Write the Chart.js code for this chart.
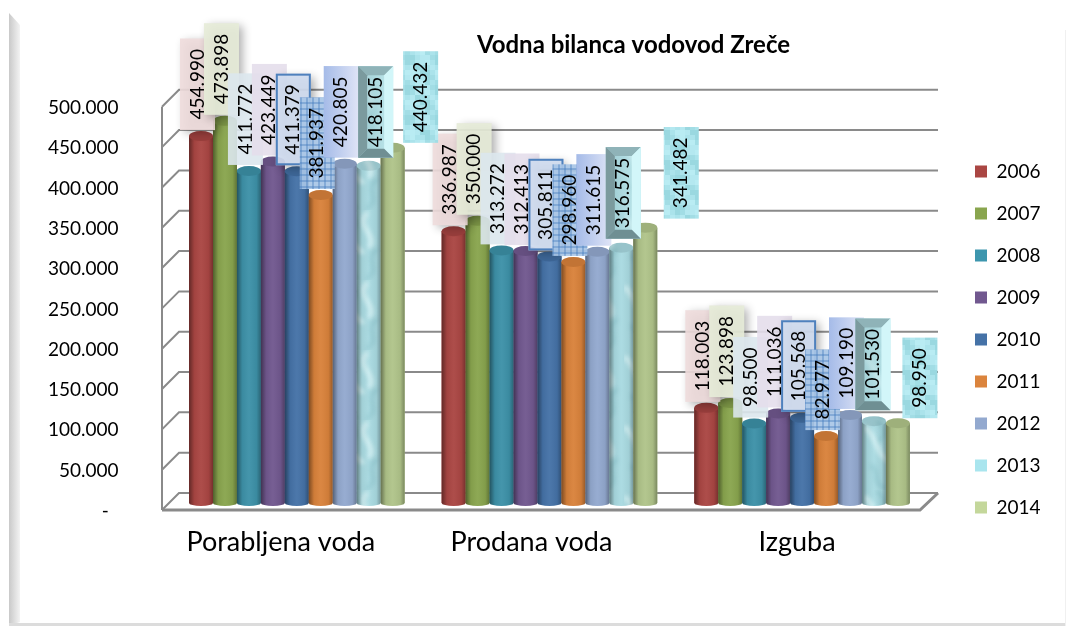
<!DOCTYPE html>
<html>
<head>
<meta charset="utf-8">
<title>Vodna bilanca vodovod Zreče</title>
<script src="https://cdn.jsdelivr.net/npm/chart.js@4/dist/chart.umd.min.js"></script>
<style>
    html, body { margin: 0; padding: 0; background: #fff; }
    canvas { display: block; }
</style>
</head>
<body>
<canvas id="voteChart" width="1066" height="626"></canvas>
<script>
// ====== data ======
const categories = ["Porabljena voda", "Prodana voda", "Izguba"];
const years = ["2006", "2007", "2008", "2009", "2010", "2011", "2012", "2013", "2014"];

const v2006 = [454990, 336987, 118003];
const v2007 = [473898, 350000, 123898];
const v2008 = [411772, 313272, 98500];
const v2009 = [423449, 312413, 111036];
const v2010 = [411379, 305811, 105568];
const v2011 = [381937, 298960, 82977];
const v2012 = [420805, 311615, 109190];
const v2013 = [418105, 316575, 101530];
const v2014 = [440432, 341482, 98950];
const seriesValues = [v2006, v2007, v2008, v2009, v2010, v2011, v2012, v2013, v2014];

const seriesColors = ["#AA4643", "#89A54E", "#3D91A8", "#71588F", "#4572A7", "#D9823B", "#93A9CF", "#A9E2EA", "#B0C48A"];
const legendColors = ["#AA4643", "#89A54E", "#3D96AE", "#71588F", "#4572A7", "#DB843D", "#93A9CF", "#A9E5EE", "#C4D79B"];

// label nudges, only the last two series sit off the default spot
const labelDx = { 7: [7, 2, -1], 8: [28, 36, 22] };
const labelDy = { 7: [-8, -9, -11], 8: [-5, -9, -5] };
const catLabelShift = [-16, -18, -5];

const fontName = "Lato, 'Open Sans', sans-serif";
const fmt = (v) => v.toLocaleString("de-DE");

// ====== small patterns ======
function makeTile(w, h, paint) {
    const c = document.createElement("canvas");
    c.width = w;
    c.height = h;
    paint(c.getContext("2d"));
    return c;
}

const marbleTile = makeTile(48, 70, (g) => {
    g.fillStyle = "#a9dae1";
    g.fillRect(0, 0, 48, 70);
    g.filter = "blur(2px)";
    g.lineCap = "round";
    g.strokeStyle = "rgba(225,248,250,0.7)";
    g.lineWidth = 5;
    g.beginPath(); g.moveTo(2, 8); g.bezierCurveTo(16, 22, 10, 32, 26, 42); g.stroke();
    g.beginPath(); g.moveTo(30, 4); g.bezierCurveTo(20, 16, 40, 24, 34, 36); g.stroke();
    g.strokeStyle = "rgba(120,180,190,0.4)";
    g.lineWidth = 4;
    g.beginPath(); g.moveTo(8, 46); g.bezierCurveTo(18, 56, 6, 60, 20, 68); g.stroke();
    g.beginPath(); g.moveTo(40, 40); g.bezierCurveTo(28, 50, 44, 58, 32, 68); g.stroke();
    g.beginPath(); g.moveTo(14, 2); g.bezierCurveTo(20, 8, 22, 14, 16, 20); g.stroke();
    g.filter = "none";
});

const pixelTile = makeTile(30, 30, (g) => {
    const tones = ["#b4e8f0", "#abe3eb", "#a2dde5", "#b9ecf3", "#9ad8e0"];
    for (let i = 0; i < 6; i++) {
        for (let j = 0; j < 6; j++) {
            g.fillStyle = tones[(i * 3 + j * 2 + (i * j) % 3) % 5];
            g.fillRect(i * 5, j * 5, 5, 5);
        }
    }
});

const dotTile = makeTile(6, 6, (g) => {
    g.fillStyle = "rgba(168,197,230,0.92)";
    g.fillRect(0, 0, 6, 6);
    g.fillStyle = "rgba(70,125,190,0.4)";
    g.fillRect(0, 0, 6, 2);
    g.fillRect(0, 0, 2, 6);
});

// ====== frame around the picture ======
const framePlugin = {
    id: "frame",
    beforeDraw(chart) {
        const g = chart.ctx;
        g.save();
        g.fillStyle = "#fff";
        g.fillRect(0, 0, 1066, 626);
        const band = g.createLinearGradient(9, 0, 20, 0);
        band.addColorStop(0, "#c9c9c9");
        band.addColorStop(1, "#f3f3f3");
        g.fillStyle = band;
        g.beginPath();
        g.moveTo(9, 13);
        g.lineTo(20, 25);
        g.lineTo(20, 622);
        g.lineTo(9, 626);
        g.closePath();
        g.fill();
        g.fillStyle = "#dcdcdc";
        g.fillRect(9, 623, 1057, 3);
        g.fillStyle = "#f0f0f0";
        g.fillRect(1065, 30, 1, 596);
        g.restore();
    }
};

// ====== 3D-looking walls and floor, taken from the y scale ======
const wallPlugin = {
    id: "walls",
    beforeDatasetsDraw(chart) {
        const g = chart.ctx;
        const y = chart.scales.y;
        const frontX = 162, backX = 179, depthUp = 10, depthDown = 7, endX = 938;
        g.save();
        g.strokeStyle = "#8a8a8a";
        g.lineWidth = 2;
        y.ticks.forEach((t) => {
            const p = y.getPixelForValue(t.value);
            g.beginPath();
            g.moveTo(frontX, p + depthDown);
            g.lineTo(backX, p - depthUp);
            g.lineTo(endX, p - depthUp);
            g.stroke();
        });
        const top = y.getPixelForValue(500000) + depthDown;
        const bottom = y.getPixelForValue(0) + depthDown;
        g.beginPath();
        g.moveTo(frontX, top);
        g.lineTo(frontX, bottom);
        g.stroke();
        g.lineWidth = 3;
        g.beginPath();
        g.moveTo(frontX, bottom);
        g.lineTo(920, bottom);
        g.lineTo(endX, bottom - depthDown - depthUp);
        g.stroke();
        g.restore();
    }
};

// ====== cylinder look on top of the library's bars ======
function shade(g, bar) {
    const left = bar.x - bar.width / 2;
    const grad = g.createLinearGradient(left, 0, left + bar.width, 0);
    grad.addColorStop(0, "rgba(0,0,0,0.42)");
    grad.addColorStop(0.22, "rgba(0,0,0,0.05)");
    grad.addColorStop(0.5, "rgba(255,255,255,0.04)");
    grad.addColorStop(0.82, "rgba(0,0,0,0.05)");
    grad.addColorStop(1, "rgba(0,0,0,0.3)");
    return grad;
}

function cylinderPath(g, bar) {
    const rx = bar.width / 2;
    g.beginPath();
    g.moveTo(bar.x - rx, bar.y);
    g.lineTo(bar.x - rx, bar.base);
    g.ellipse(bar.x, bar.base, rx, 3, 0, Math.PI, 0, true);
    g.lineTo(bar.x + rx, bar.y);
    g.closePath();
}

const cylinderPlugin = {
    id: "cylinder",
    afterDatasetsDraw(chart) {
        const g = chart.ctx;
        chart.data.datasets.forEach((ds, i) => {
            chart.getDatasetMeta(i).data.forEach((bar) => {
                g.save();
                g.fillStyle = i === 7 ? g.createPattern(marbleTile, "repeat") : ds.backgroundColor;
                cylinderPath(g, bar);
                g.fill();
                g.fillStyle = shade(g, bar);
                cylinderPath(g, bar);
                g.fill();
                g.beginPath();
                g.ellipse(bar.x, bar.y, bar.width / 2, 5, 0, 0, Math.PI * 2);
                g.fillStyle = i === 7 ? g.createPattern(marbleTile, "repeat") : ds.backgroundColor;
                g.fill();
                g.fillStyle = "rgba(0,0,0,0.1)";
                g.fill();
                g.restore();
            });
        });
    }
};

// ====== rotated value labels ======
const boxFill = ["rgba(238,220,219,0.9)", "rgba(230,235,216,0.92)", "rgba(220,231,237,0.9)", "rgba(228,222,235,0.9)"];

function paintBox(g, i, x, y, w, h) {
    g.save();
    if (i < 2 || i === 4) {
        g.shadowColor = "rgba(0,0,0,0.35)";
        g.shadowBlur = 9;
        g.shadowOffsetX = 4;
        g.shadowOffsetY = 3;
    }
    if (i < 4) {
        g.fillStyle = boxFill[i];
        g.fillRect(x, y, w, h);
    } else if (i === 4) {
        g.fillStyle = "rgba(208,220,240,0.92)";
        g.fillRect(x, y, w, h);
        g.shadowColor = "transparent";
        g.strokeStyle = "#4F81BD";
        g.lineWidth = 2;
        g.strokeRect(x + 1, y + 1, w - 2, h - 2);
    } else if (i === 5) {
        g.fillStyle = g.createPattern(dotTile, "repeat");
        g.fillRect(x, y, w, h);
    } else if (i === 6) {
        const grad = g.createLinearGradient(x, 0, x + w, 0);
        grad.addColorStop(0, "#a5bbe8");
        grad.addColorStop(1, "#dfe4f6");
        g.fillStyle = grad;
        g.fillRect(x, y, w, h);
    } else if (i === 7) {
        const bevel = 9;
        const grad = g.createLinearGradient(x, 0, x + w, 0);
        grad.addColorStop(0, "#8fb9bf");
        grad.addColorStop(1, "#d6f8fb");
        g.fillStyle = grad;
        g.fillRect(x, y, w, h);
        g.globalAlpha = 0.5;
        g.fillStyle = g.createPattern(marbleTile, "repeat");
        g.fillRect(x, y, w, h);
        g.globalAlpha = 1;
        const side = (col, pts) => {
            g.fillStyle = col;
            g.beginPath();
            pts.forEach((p, n) => (n ? g.lineTo(p[0], p[1]) : g.moveTo(p[0], p[1])));
            g.closePath();
            g.fill();
        };
        side("#8fb3b8", [[x, y], [x + w, y], [x + w - bevel, y + bevel], [x + bevel, y + bevel]]);
        side("#7b9a9e", [[x, y], [x + bevel, y + bevel], [x + bevel, y + h - bevel], [x, y + h]]);
        side("#d2f6f9", [[x + w, y], [x + w - bevel, y + bevel], [x + w - bevel, y + h - bevel], [x + w, y + h]]);
        side("#6f8f93", [[x, y + h], [x + bevel, y + h - bevel], [x + w - bevel, y + h - bevel], [x + w, y + h]]);
    } else {
        g.fillStyle = g.createPattern(pixelTile, "repeat");
        g.fillRect(x, y, w, h);
    }
    g.restore();
}

const valueLabelPlugin = {
    id: "valueLabels",
    afterDraw(chart) {
        const g = chart.ctx;
        g.save();
        g.font = "19px " + fontName;
        chart.data.datasets.forEach((ds, i) => {
            chart.getDatasetMeta(i).data.forEach((bar, j) => {
                const text = fmt(ds.data[j]);
                const len = g.measureText(text).width;
                const w = 35, h = len + 21;
                const dx = labelDx[i] ? labelDx[i][j] : -3.5;
                const dy = labelDy[i] ? labelDy[i][j] : -6;
                const cx = bar.x + dx;
                const bottom = bar.y + dy;
                paintBox(g, i, cx - w / 2, bottom - h, w, h);
                g.save();
                g.translate(cx, bottom - h / 2);
                g.rotate(-Math.PI / 2);
                g.fillStyle = "#000";
                g.textAlign = "center";
                g.textBaseline = "middle";
                g.fillText(text, 0, 0);
                g.restore();
            });
        });
        g.restore();
    }
};

// ====== move title and legend to where the picture has them ======
const placePlugin = {
    id: "place",
    afterLayout(chart) {
        const t = chart.titleBlock;
        t.left += 120;
        t.right += 120;
        const l = chart.legend;
        const shift = 975 - 23 - l.left;
        l.left += shift;
        l.right += shift;
        const lift = 139 - l.top;
        l.top += lift;
        l.bottom += lift;
    }
};

new Chart(document.getElementById("voteChart"), {
    type: "bar",
    data: {
        labels: categories,
        datasets: years.map((year, i) => ({
            label: year,
            data: seriesValues[i],
            backgroundColor: seriesColors[i]
        }))
    },
    plugins: [framePlugin, wallPlugin, cylinderPlugin, placePlugin, valueLabelPlugin],
    options: {
        responsive: false,
        animation: false,
        layout: {
            autoPadding: false,
            padding: { left: 0, right: 39, top: 0, bottom: 63 }
        },
        datasets: {
            bar: { categoryPercentage: 0.86, barPercentage: 1 }
        },
        plugins: {
            title: {
                display: true,
                text: "Vodna bilanca vodovod Zreče",
                color: "#000",
                font: { family: fontName, size: 24, weight: "bold", lineHeight: 1.2 },
                padding: { top: 31, bottom: 40 }
            },
            legend: {
                position: "right",
                align: "start",
                labels: {
                    boxWidth: 12,
                    boxHeight: 12,
                    padding: 23,
                    color: "#000",
                    font: { family: fontName, size: 19, lineHeight: 1 },
                    generateLabels(chart) {
                        return chart.data.datasets.map((ds, i) => ({
                            text: ds.label,
                            fillStyle: legendColors[i],
                            strokeStyle: legendColors[i],
                            lineWidth: 0,
                            fontColor: "#000",
                            datasetIndex: i
                        }));
                    }
                }
            },
            tooltip: { enabled: false }
        },
        scales: {
            x: {
                grid: { display: false },
                border: { display: false },
                afterFit(scale) {
                    scale.height = 60;
                    const base = scale.getPixelForTick.bind(scale);
                    scale.getPixelForTick = (n) => base(n) + catLabelShift[n];
                },
                ticks: {
                    color: "#000",
                    padding: 15,
                    maxRotation: 0,
                    font: { family: fontName, size: 27 }
                }
            },
            y: {
                min: 0,
                max: 500000,
                grid: { display: false, drawTicks: false },
                border: { display: false },
                afterFit(scale) {
                    scale.width = 170.5;
                },
                ticks: {
                    stepSize: 50000,
                    color: "#000",
                    padding: 52,
                    labelOffset: 8,
                    font: { family: fontName, size: 19 },
                    callback: (v) => (v === 0 ? "-  " : fmt(v))
                }
            }
        }
    }
});
</script>
</body>
</html>
